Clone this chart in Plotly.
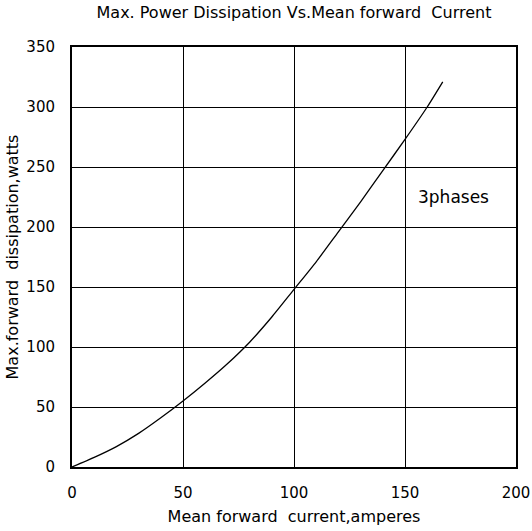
import plotly.graph_objects as go

current = [0, 10, 20, 30, 40, 50, 60, 70, 80, 90, 100, 110, 120, 130, 140, 150, 160, 167]
dissipation = [0, 8, 17, 28, 41, 55, 70, 86, 104, 125, 148, 171, 196, 221, 247, 273, 300, 321]

x_ticks = [0, 50, 100, 150, 200]
y_ticks = [0, 50, 100, 150, 200, 250, 300, 350]

font = "DejaVu Sans, Verdana, sans-serif"

fig = go.Figure()
fig.add_trace(go.Scatter(x=current, y=dissipation, mode="lines",
                         line=dict(color="black", width=1.3, shape="spline", smoothing=0.6),
                         showlegend=False, hoverinfo="skip"))

fig.add_annotation(x=171.8, y=225, text="3phases", showarrow=False,
                   xanchor="center", yanchor="middle",
                   font=dict(family=font, size=17, color="black"))

fig.update_layout(
    width=532, height=531,
    margin=dict(l=72, r=16, t=47, b=64, autoexpand=False),
    paper_bgcolor="white", plot_bgcolor="white",
    title=dict(text="Max. Power Dissipation Vs.Mean forward  Current",
               x=0.5, xref="paper", xanchor="center",
               y=1 - 12.5 / 531, yref="container", yanchor="middle",
               font=dict(family=font, size=16, color="black")),
    font=dict(family=font, size=15, color="black"),
)
fig.update_xaxes(range=[0, 200], tickvals=x_ticks, showgrid=True, gridcolor="black",
                 gridwidth=1.4, showline=True, linecolor="black", linewidth=2, mirror=True,
                 zeroline=False, ticks="", ticklabelstandoff=11, automargin=False,
                 tickfont=dict(family=font, size=15),
                 title=dict(text="Mean forward  current,amperes", standoff=10,
                            font=dict(family=font, size=16)))
fig.update_yaxes(range=[0, 350], tickvals=y_ticks, showgrid=True, gridcolor="black",
                 gridwidth=1.4, showline=True, linecolor="black", linewidth=2, mirror=True,
                 zeroline=False, ticks="", ticklabelstandoff=12, automargin=False,
                 tickfont=dict(family=font, size=15),
                 title=dict(text="Max.forward  dissipation,watts", standoff=4,
                            font=dict(family=font, size=16)))

fig.write_html("out.html", config={"displayModeBar": False},
               post_script="document.body.style.margin='0px';")
